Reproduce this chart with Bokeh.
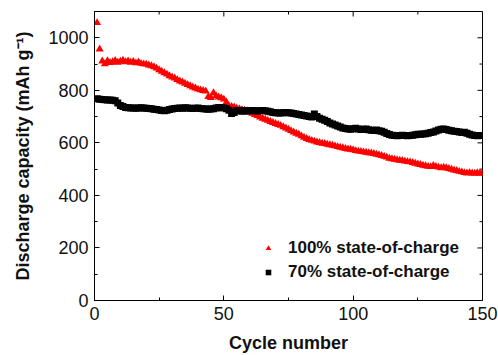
from bokeh.plotting import figure
from bokeh.models import Range1d, Legend, LegendItem, FixedTicker
from bokeh.embed import file_html
from bokeh.resources import INLINE

cycles = list(range(1, 151))

soc100 = [
    1057, 957, 911, 900, 912, 905, 908, 913, 906, 910,
    914, 908, 911, 906, 909, 904, 907, 902, 900, 899,
    896, 893, 889, 884, 878, 872, 866, 861, 855, 850,
    846, 840, 835, 831, 826, 821, 817, 812, 808, 804,
    801, 799, 797, 776, 772, 790, 779, 774, 771, 766,
    755, 740, 738, 736, 731, 729, 726, 724, 721, 717,
    712, 707, 703, 698, 693, 689, 685, 681, 677, 673,
    669, 666, 661, 656, 651, 646, 641, 636, 632, 626,
    621, 616, 612, 609, 606, 603, 601, 598, 597, 594,
    592, 590, 588, 585, 583, 581, 578, 576, 575, 573,
    570, 568, 567, 565, 564, 562, 561, 559, 556, 554,
    551, 548, 545, 541, 539, 537, 535, 533, 532, 530,
    528, 527, 525, 522, 519, 517, 514, 512, 510, 509,
    513, 510, 507, 505, 507, 505, 502, 499, 496, 494,
    491, 489, 486, 485, 486, 485, 484, 486, 484, 485,
]

soc70 = [
    768, 766, 765, 764, 763, 763, 762, 760, 752, 742,
    738, 735, 734, 733, 733, 732, 733, 734, 733, 732,
    731, 730, 728, 727, 725, 723, 722, 724, 727, 729,
    731, 732, 733, 732, 734, 733, 732, 731, 732, 733,
    731, 730, 729, 728, 729, 730, 733, 735, 734, 734,
    730, 724, 712, 716, 723, 722, 720, 722, 721, 722,
    723, 722, 721, 722, 723, 722, 720, 718, 716, 715,
    714, 714, 715, 716, 715, 714, 712, 710, 708, 706,
    704, 702, 700, 698, 710, 700, 694, 690, 686, 681,
    676, 672, 668, 664, 660, 657, 655, 653, 652, 654,
    656, 653, 651, 652, 653, 650, 648, 647, 649, 646,
    644, 640, 636, 632, 629, 628, 627, 628, 629, 628,
    627, 628, 629, 631, 633, 633, 634, 635, 637, 639,
    641, 645, 649, 652, 653, 651, 648, 646, 644, 643,
    641, 639, 640, 637, 633, 630, 628, 627, 628, 628,
]

x_ticks = [0, 50, 100, 150]
x_minor = [25, 75, 125]
y_ticks = [0, 200, 400, 600, 800, 1000]
y_minor = [100, 300, 500, 700, 900, 1100]
labels = ["100% state-of-charge", "70% state-of-charge"]

FONT = "Liberation Sans"
X0, X1, Y0, Y1 = 0, 150, 0, 1100
FRAME_W, FRAME_H = 388, 289

p = figure(width=498, height=355, output_backend="svg", toolbar_location=None,
           x_range=Range1d(X0, X1), y_range=Range1d(Y0, Y1),
           min_border_left=94, min_border_right=16, min_border_top=11, min_border_bottom=55)
p.background_fill_color = "white"
p.border_fill_color = "white"
p.outline_line_color = "black"
p.outline_line_width = 1
p.xgrid.visible = False
p.ygrid.visible = False

r1 = p.scatter(cycles, soc100, marker="triangle", size=8, color="#ff0000", line_width=0)
r2 = p.scatter(cycles, soc70, marker="square", size=7, color="black", line_width=0)

# inward ticks on the top and right frame edges
ux = (X1 - X0) / FRAME_W
uy = (Y1 - Y0) / FRAME_H
p.segment(x0=x_ticks, y0=[Y1] * len(x_ticks), x1=x_ticks, y1=[Y1 - 5 * uy] * len(x_ticks),
          line_color="black", line_width=1)
p.segment(x0=x_minor, y0=[Y1] * len(x_minor), x1=x_minor, y1=[Y1 - 3 * uy] * len(x_minor),
          line_color="black", line_width=1)
p.segment(x0=[X1] * len(y_ticks), y0=y_ticks, x1=[X1 - 5 * ux] * len(y_ticks), y1=y_ticks,
          line_color="black", line_width=1)
p.segment(x0=[X1] * len(y_minor), y0=y_minor, x1=[X1 - 3 * ux] * len(y_minor), y1=y_minor,
          line_color="black", line_width=1)

def style(ax):
    ax.axis_line_color = "black"
    ax.axis_line_width = 1
    ax.major_tick_in = 5
    ax.major_tick_out = 0
    ax.minor_tick_in = 3
    ax.minor_tick_out = 0
    ax.major_tick_line_color = "black"
    ax.minor_tick_line_color = "black"
    ax.major_label_text_font = FONT
    ax.major_label_text_font_size = "18px"
    ax.major_label_text_color = "#111111"
    ax.axis_label_text_font = FONT
    ax.axis_label_text_font_style = "bold"
    ax.axis_label_text_font_size = "18px"
    ax.axis_label_text_color = "#111111"

xa = p.xaxis[0]
xa.ticker = FixedTicker(ticks=x_ticks, minor_ticks=x_minor)
xa.axis_label = "Cycle number"
xa.major_label_standoff = 6
xa.axis_label_standoff = 10
style(xa)

ya = p.yaxis[0]
ya.ticker = FixedTicker(ticks=y_ticks, minor_ticks=y_minor)
ya.axis_label = "Discharge capacity (mAh g\u207b\u00b9)"
ya.major_label_standoff = 6
ya.axis_label_standoff = 12
style(ya)

legend = Legend(items=[LegendItem(label=labels[0], renderers=[r1]),
                       LegendItem(label=labels[1], renderers=[r2])],
                location=(167, 18))
legend.background_fill_alpha = 0
legend.border_line_color = None
legend.padding = 0
legend.margin = 0
legend.spacing = 4
legend.glyph_width = 14
legend.glyph_height = 20
legend.label_height = 20
legend.label_standoff = 13
legend.label_text_font = FONT
legend.label_text_font_style = "bold"
legend.label_text_font_size = "17px"
legend.label_text_color = "#111111"
p.add_layout(legend, "center")

open("out.html", "w").write(file_html(p, INLINE))
